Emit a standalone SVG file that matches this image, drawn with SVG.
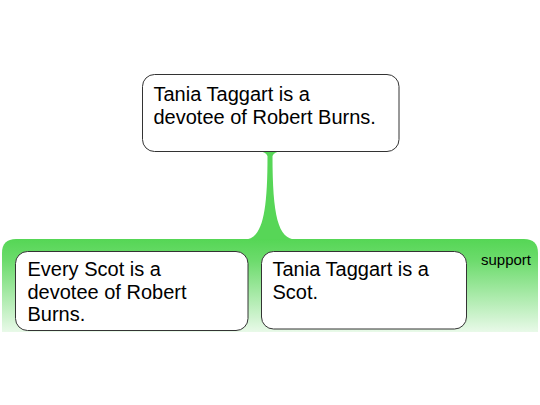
<svg xmlns="http://www.w3.org/2000/svg" width="540" height="405" viewBox="0 0 540 405">
  <defs>
    <linearGradient id="panelGrad" gradientUnits="userSpaceOnUse" x1="0" y1="239" x2="0" y2="345">
      <stop offset="0" stop-color="#55d655"/>
      <stop offset="0.2" stop-color="#6cdb6c"/>
      <stop offset="1" stop-color="#ffffff"/>
    </linearGradient>
    <style>
      .node rect { fill: #ffffff; stroke: #333333; stroke-width: 1; }
      .label { font-family: "Liberation Sans", Arial, sans-serif; font-size: 20px; fill: #000000; }
      .small { font-family: "Liberation Sans", Arial, sans-serif; font-size: 15px; fill: #000000; }
      .stem { fill: #57d657; stroke: none; }
    </style>
  </defs>
  <rect x="0" y="0" width="540" height="405" fill="#ffffff"/>

  <g id="support-group">
    <path d="M2,332 V253 Q2,239 16,239 H524 Q538,239 538,253 V332 Z" fill="url(#panelGrad)"/>
    <text class="small" x="481" y="264.5">support</text>
  </g>

  <g id="connectors">
    <path class="stem" d="M257,151 Q266,151.5 267.5,156 C267.5,215 262,239.5 244,239.5 L296,239.5 C278,239.5 272.5,215 272.5,156 Q274,151.5 283,151 Z"/>
  </g>

  <g id="claim" class="node">
    <rect x="142.5" y="74.5" width="256.5" height="77" rx="12" ry="12"/>
    <text class="label" x="153.5" y="101">Tania Taggart is a</text>
    <text class="label" x="153.5" y="124">devotee of Robert Burns.</text>
  </g>

  <g id="premise1" class="node">
    <rect x="15.5" y="251.5" width="232.5" height="79" rx="12" ry="12"/>
    <text class="label" x="27.5" y="276">Every Scot is a</text>
    <text class="label" x="27.5" y="298.5">devotee of Robert</text>
    <text class="label" x="27.5" y="321">Burns.</text>
  </g>

  <g id="premise2" class="node">
    <rect x="261.5" y="251.5" width="205" height="77.5" rx="12" ry="12"/>
    <text class="label" x="272.5" y="276">Tania Taggart is a</text>
    <text class="label" x="272.5" y="298.5">Scot.</text>
  </g>
</svg>
